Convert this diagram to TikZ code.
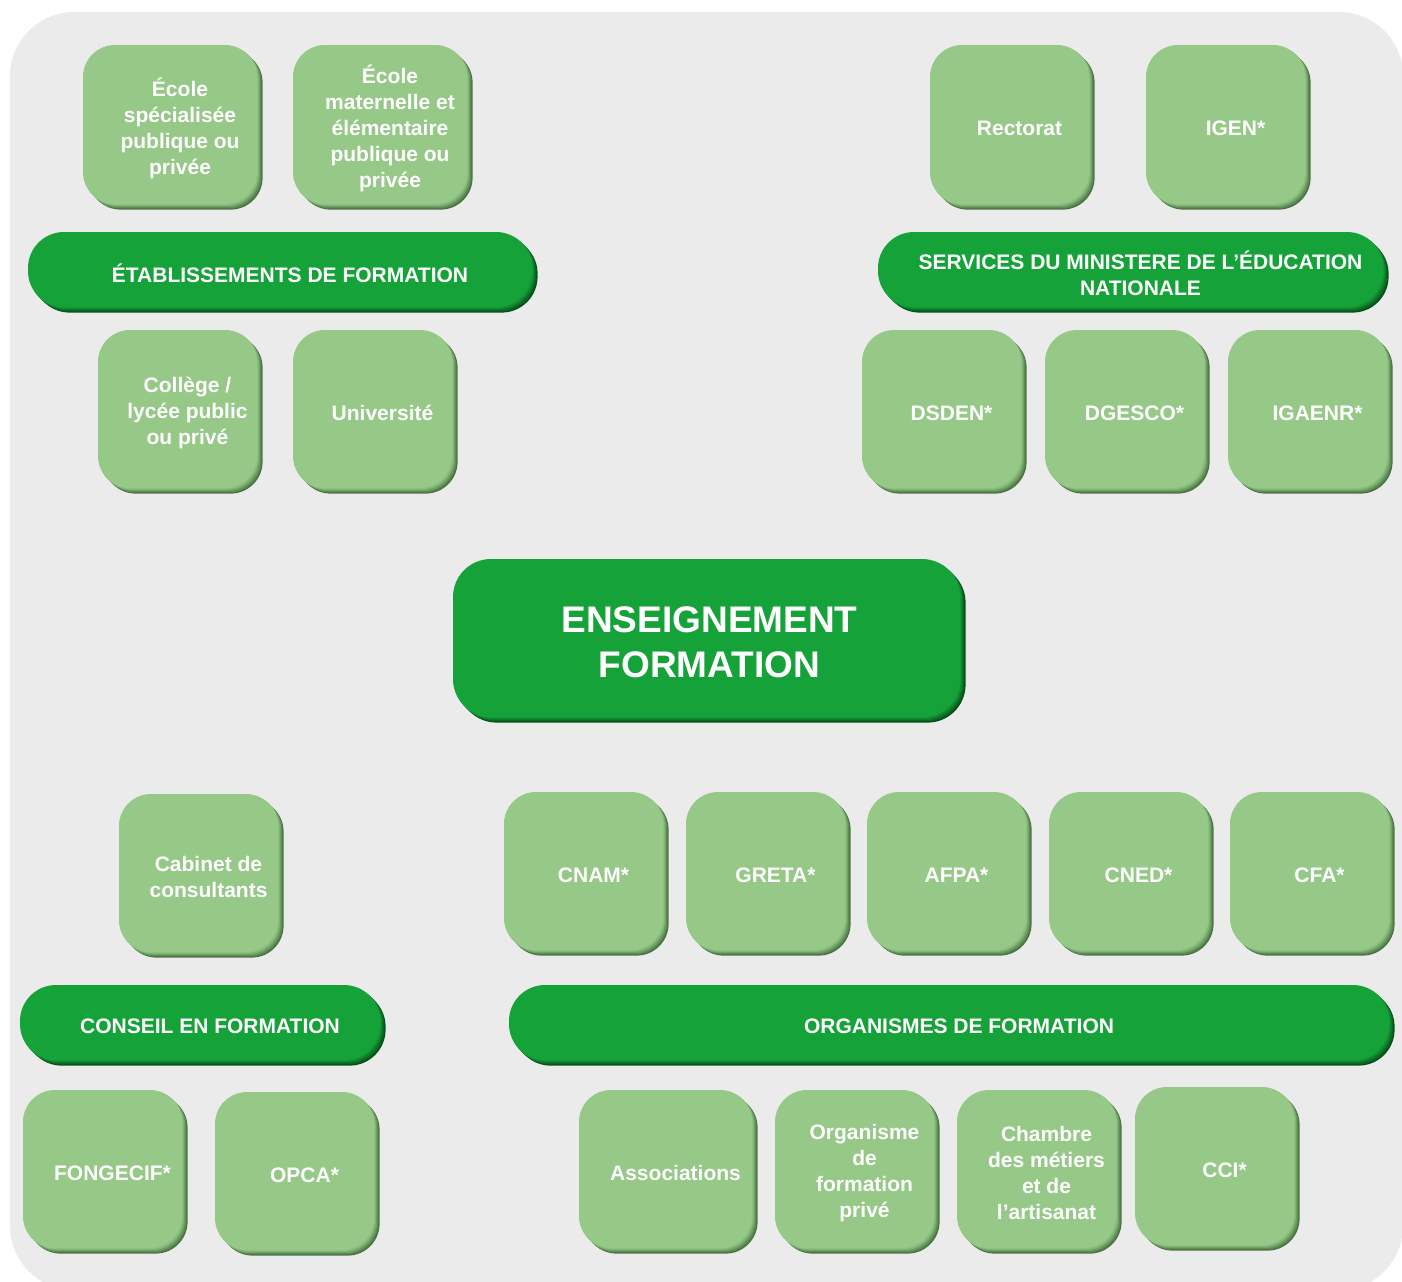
\documentclass[tikz,border=0pt]{standalone}
\usepackage{fontspec}
\setmainfont{Liberation Sans}
\usetikzlibrary{shadows}
\definecolor{bgc}{HTML}{EBEBEB}
\definecolor{lg}{HTML}{96C887}
\definecolor{lgA}{HTML}{4A7341}
\definecolor{lgB}{HTML}{5C8A53}
\definecolor{lgC}{HTML}{6E9F64}
\definecolor{lgD}{HTML}{80B375}
\definecolor{lgE}{HTML}{8DBF80}
\definecolor{dg}{HTML}{15A339}
\definecolor{dgA}{HTML}{065018}
\definecolor{dgB}{HTML}{09641F}
\definecolor{dgC}{HTML}{0C7727}
\definecolor{dgD}{HTML}{10892F}
\definecolor{dgE}{HTML}{139835}
\tikzset{
  x=0.5pt, y=-0.5pt,
  boxbase/.style={draw=none, inner sep=0pt},
  lbox/.style={boxbase, fill=lg, rounded corners=16pt,
    general shadow={fill=lgA, shadow xshift=2.8pt, shadow yshift=-2.8pt},
    general shadow={fill=lgB, shadow xshift=2.2pt, shadow yshift=-2.2pt},
    general shadow={fill=lgC, shadow xshift=1.6pt, shadow yshift=-1.6pt},
    general shadow={fill=lgD, shadow xshift=1.0pt, shadow yshift=-1.0pt},
    general shadow={fill=lgE, shadow xshift=0.5pt, shadow yshift=-0.5pt}},
  dbar/.style={boxbase, fill=dg, rounded corners=18pt,
    general shadow={fill=dgA, shadow xshift=2.8pt, shadow yshift=-2.8pt},
    general shadow={fill=dgB, shadow xshift=2.2pt, shadow yshift=-2.2pt},
    general shadow={fill=dgC, shadow xshift=1.6pt, shadow yshift=-1.6pt},
    general shadow={fill=dgD, shadow xshift=1.0pt, shadow yshift=-1.0pt},
    general shadow={fill=dgE, shadow xshift=0.5pt, shadow yshift=-0.5pt}},
  dmain/.style={dbar, rounded corners=19pt},
  txt/.style={text=white, align=center, inner sep=0pt,
    font=\fontsize{10.5pt}{13pt}\selectfont\bfseries},
  bigtxt/.style={text=white, align=center, inner sep=0pt,
    font=\fontsize{18.5pt}{22.5pt}\selectfont\bfseries},
}
\newcommand\gbox[8][txt]{%
  \pgfmathsetmacro\bw{(#6-#4-6)*0.5}%
  \pgfmathsetmacro\bh{(#7-#5-6)*0.5}%
  \pgfmathsetmacro\bx{(#4+#6-6)/2}%
  \pgfmathsetmacro\by{(#5+#7-6)/2}%
  \node[#2, minimum width=\bw pt, minimum height=\bh pt] (#3) at (\bx,\by) {};
  \node[#1] (#3-t) at ([xshift=5pt,yshift=-2pt]#3.center) {#8};
}
\begin{document}
\begin{tikzpicture}
\useasboundingbox (0,0) rectangle (1402,1281);
\fill[bgc, rounded corners=32pt] (10,12) rectangle (1403,1290);

% top left
\gbox{lbox}{ecs}{83}{45}{263}{210}{École\\spécialisée\\publique ou\\privée}
\gbox{lbox}{ecm}{293}{45}{473}{210}{École\\maternelle et\\élémentaire\\publique ou\\privée}
\gbox{dbar}{etab}{28}{232}{538}{313}{ÉTABLISSEMENTS DE FORMATION}
\gbox{lbox}{coll}{98}{330}{263}{494}{Collège /\\lycée public\\ou privé}
\gbox{lbox}{univ}{293}{330}{458}{494}{Université}

% top right
\gbox{lbox}{rect}{930}{45}{1095}{210}{Rectorat}
\gbox{lbox}{igen}{1146}{45}{1311}{210}{IGEN*}
\gbox{dbar}{serv}{878}{232}{1389}{313}{SERVICES DU MINISTERE DE L’ÉDUCATION\\NATIONALE}
\gbox{lbox}{dsden}{862}{330}{1027}{494}{DSDEN*}
\gbox{lbox}{dgesco}{1045}{330}{1210}{494}{DGESCO*}
\gbox{lbox}{igaenr}{1228}{330}{1393}{494}{IGAENR*}

% center
\pgfmathsetmacro\bw{(966-453-6)*0.5}%
\pgfmathsetmacro\bh{(723-559-6)*0.5}%
\node[dmain, minimum width=\bw pt, minimum height=\bh pt] (ens) at ({(453+966-6)/2},{(559+723-6)/2}) {};
\node[bigtxt] (ens-t) at ([xshift=1.5pt,yshift=-2.2pt]ens.center) {ENSEIGNEMENT\\FORMATION};

% bottom left
\gbox{lbox}{cab}{119}{794}{284}{958}{Cabinet de\\consultants}
\gbox{dbar}{cons}{20}{985}{386}{1066}{CONSEIL EN FORMATION}
\gbox{lbox}{fong}{23}{1090}{188}{1254}{FONGECIF*}
\gbox{lbox}{opca}{215}{1092}{380}{1256}{OPCA*}

% bottom right
\gbox{lbox}{cnam}{504}{792}{669}{956}{CNAM*}
\gbox{lbox}{greta}{686}{792}{851}{956}{GRETA*}
\gbox{lbox}{afpa}{867}{792}{1032}{956}{AFPA*}
\gbox{lbox}{cned}{1049}{792}{1214}{956}{CNED*}
\gbox{lbox}{cfa}{1230}{792}{1395}{956}{CFA*}
\gbox{dbar}{org}{509}{985}{1395}{1066}{ORGANISMES DE FORMATION}
\gbox{lbox}{assoc}{579}{1090}{758}{1254}{Associations}
\gbox{lbox}{ofp}{775}{1090}{940}{1254}{Organisme\\de\\formation\\privé}
\gbox{lbox}{cma}{957}{1090}{1122}{1254}{Chambre\\des métiers\\et de\\l’artisanat}
\gbox{lbox}{cci}{1135}{1087}{1300}{1251}{CCI*}
\end{tikzpicture}
\end{document}
